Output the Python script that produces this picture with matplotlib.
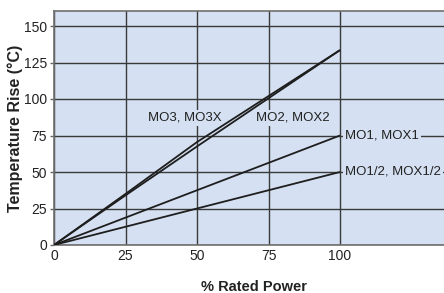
import matplotlib.pyplot as plt

plt.rcParams['font.family'] = ['Liberation Sans', 'DejaVu Sans']

# % rated power
power = [0, 25, 50, 75, 100]
# temperature rise (C) per model
mo3 = [0, 35, 70.5, 102, 133.5]
mo2 = [0, 34, 67.5, 100.5, 133.5]
mo1 = [0, 18.75, 37.5, 56.25, 75]
mo_half = [0, 12.5, 25, 37.5, 50]

xticks = [0, 25, 50, 75, 100]
yticks = [0, 25, 50, 75, 100, 125, 150]

bg = '#d5e1f2'

fig = plt.figure(figsize=(4.44, 2.93), dpi=100)
ax = fig.add_axes([54/444, 48/293, 400.4/444, 233.6/293])
ax.set_facecolor(bg)

for ys in (mo3, mo2, mo1, mo_half):
    ax.plot(power, ys, color='#1e1e1e', linewidth=1.3, zorder=5, solid_capstyle='butt')

ax.set_xlim(0, 140)
ax.set_ylim(0, 160)
ax.set_xticks(xticks)
ax.set_yticks(yticks)
ax.grid(True, color='#3a3a3a', linewidth=1.0)
ax.tick_params(axis='x', length=0, pad=3, labelsize=10, labelcolor='#222222')
ax.tick_params(axis='y', length=3, width=1, color='#666666', pad=2, labelsize=10, labelcolor='#222222')

for s in ('left', 'bottom', 'top'):
    ax.spines[s].set_color('#6f6f6f')
    ax.spines[s].set_linewidth(1.2)
ax.spines['right'].set_visible(False)

ax.set_xlabel('% Rated Power', fontsize=10.5, fontweight='bold', color='#222222')
ax.xaxis.set_label_coords(0.5, -42/233.6)
ax.xaxis.label.set_va('center')
ax.set_ylabel('Temperature Rise (°C)', fontsize=11.5, fontweight='bold', color='#222222')
ax.yaxis.set_label_coords(-39/400.4, 0.5)
ax.yaxis.label.set_va('center')

box = dict(facecolor=bg, edgecolor='none', pad=1.5)
ax.text(45.8, 87, 'MO3, MO3X', fontsize=9.5, ha='center', va='center', color='#222222', bbox=box)
ax.text(83.5, 87, 'MO2, MOX2', fontsize=9.5, ha='center', va='center', color='#222222', bbox=box)
ax.text(101.8, 75, 'MO1, MOX1', fontsize=9.5, ha='left', va='center', color='#222222', bbox=box)
ax.text(101.8, 50, 'MO1/2, MOX1/2', fontsize=9.5, ha='left', va='center', color='#222222', bbox=box)

fig.savefig('out.png', dpi=100)
